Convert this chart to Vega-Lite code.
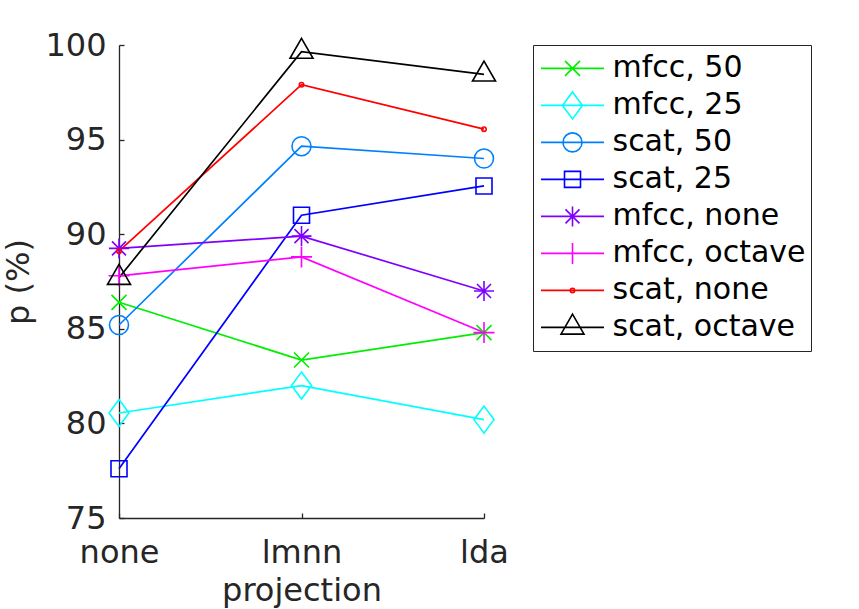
{
  "$schema": "https://vega.github.io/schema/vega-lite/v6.json",
  "width": 365,
  "height": 473,
  "autosize": "none",
  "padding": {"left": 119, "top": 45, "right": 375, "bottom": 91},
  "background": "white",
  "params": [
    {
      "name": "seriesNames",
      "value": ["mfcc, 50", "mfcc, 25", "scat, 50", "scat, 25", "mfcc, none", "mfcc, octave", "scat, none", "scat, octave"]
    },
    {
      "name": "markers",
      "value": [
        "M-0.75,-0.75L0.75,0.75M-0.75,0.75L0.75,-0.75",
        "M0,-1.35L1,0L0,1.35L-1,0Z",
        "M-0.95,0A0.95,0.95,0,1,1,0.95,0A0.95,0.95,0,1,1,-0.95,0Z",
        "M-0.8,-0.8H0.8V0.8H-0.8Z",
        "M0,-1V1M-1,0H1M-0.7,-0.7L0.7,0.7M-0.7,0.7L0.7,-0.7",
        "M0,-1.05V1.05M-1.05,0H1.05",
        "M-0.22,0A0.22,0.22,0,1,1,0.22,0A0.22,0.22,0,1,1,-0.22,0Z",
        "M0,-1.33L1.15,0.67L-1.15,0.67Z"
      ]
    }
  ],
  "data": {
    "values": [
      {"projection": "none", "series": "mfcc, 50", "p": 86.4},
      {"projection": "lmnn", "series": "mfcc, 50", "p": 83.35},
      {"projection": "lda", "series": "mfcc, 50", "p": 84.8},
      {"projection": "none", "series": "mfcc, 25", "p": 80.55},
      {"projection": "lmnn", "series": "mfcc, 25", "p": 82.0},
      {"projection": "lda", "series": "mfcc, 25", "p": 80.2},
      {"projection": "none", "series": "scat, 50", "p": 85.2},
      {"projection": "lmnn", "series": "scat, 50", "p": 94.65},
      {"projection": "lda", "series": "scat, 50", "p": 94.0},
      {"projection": "none", "series": "scat, 25", "p": 77.6},
      {"projection": "lmnn", "series": "scat, 25", "p": 91.0},
      {"projection": "lda", "series": "scat, 25", "p": 92.55},
      {"projection": "none", "series": "mfcc, none", "p": 89.25},
      {"projection": "lmnn", "series": "mfcc, none", "p": 89.9},
      {"projection": "lda", "series": "mfcc, none", "p": 87.0},
      {"projection": "none", "series": "mfcc, octave", "p": 87.8},
      {"projection": "lmnn", "series": "mfcc, octave", "p": 88.8},
      {"projection": "lda", "series": "mfcc, octave", "p": 84.8},
      {"projection": "none", "series": "scat, none", "p": 89.1},
      {"projection": "lmnn", "series": "scat, none", "p": 97.9},
      {"projection": "lda", "series": "scat, none", "p": 95.55},
      {"projection": "none", "series": "scat, octave", "p": 87.7},
      {"projection": "lmnn", "series": "scat, octave", "p": 99.65},
      {"projection": "lda", "series": "scat, octave", "p": 98.45}
    ]
  },
  "encoding": {
    "x": {
      "field": "projection",
      "type": "ordinal",
      "scale": {"type": "point", "domain": ["none", "lmnn", "lda"], "padding": 0},
      "axis": {"title": "projection", "labelPadding": 24, "titlePadding": 7}
    },
    "y": {
      "field": "p",
      "type": "quantitative",
      "scale": {"domain": [75, 100], "nice": false, "zero": false},
      "axis": {"title": "p (%)", "values": [75, 80, 85, 90, 95, 100], "labelPadding": 18, "titlePadding": 9}
    },
    "color": {
      "field": "series",
      "type": "nominal",
      "scale": {
        "domain": ["mfcc, 50", "mfcc, 25", "scat, 50", "scat, 25", "mfcc, none", "mfcc, octave", "scat, none", "scat, octave"],
        "range": ["#00EE00", "#00FFFF", "#0080FF", "#0000FF", "#8000FF", "#FF00FF", "#FF0000", "#000000"]
      },
      "legend": {
        "title": null,
        "encode": {
          "symbols": {
            "update": {
              "shape": {"signal": "'M-3.15,0H3.15' + markers[indexof(seriesNames, datum.value)]"}
            }
          }
        }
      }
    }
  },
  "layer": [
    {
      "mark": {"type": "line", "strokeWidth": 1.7},
      "encoding": {"detail": {"field": "series"}}
    },
    {
      "mark": {
        "type": "point",
        "filled": false,
        "size": 400,
        "strokeWidth": 1.6,
        "opacity": 1,
        "shape": {"expr": "markers[indexof(seriesNames, datum.series)]"}
      }
    }
  ],
  "config": {
    "view": {"stroke": null},
    "font": "DejaVu Sans",
    "axis": {
      "grid": false,
      "domainColor": "#262626",
      "domainWidth": 1.3,
      "tickColor": "#262626",
      "tickWidth": 1.3,
      "tickSize": -5,
      "labelFont": "DejaVu Sans",
      "labelFontSize": 32,
      "labelColor": "#262626",
      "titleFont": "DejaVu Sans",
      "titleFontSize": 32,
      "titleFontWeight": "normal",
      "titleColor": "#262626"
    },
    "axisX": {"labelAngle": 0},
    "legend": {
      "orient": "right",
      "offset": 45,
      "padding": 5,
      "strokeColor": "#262626",
      "labelFont": "DejaVu Sans",
      "labelFontSize": 30,
      "labelColor": "#000000",
      "labelLimit": 0,
      "symbolSize": 400,
      "symbolStrokeWidth": 1.6,
      "symbolFillColor": "transparent",
      "symbolOffset": 19.5,
      "labelOffset": 25,
      "clipHeight": 36.8,
      "rowPadding": 0
    }
  }
}
